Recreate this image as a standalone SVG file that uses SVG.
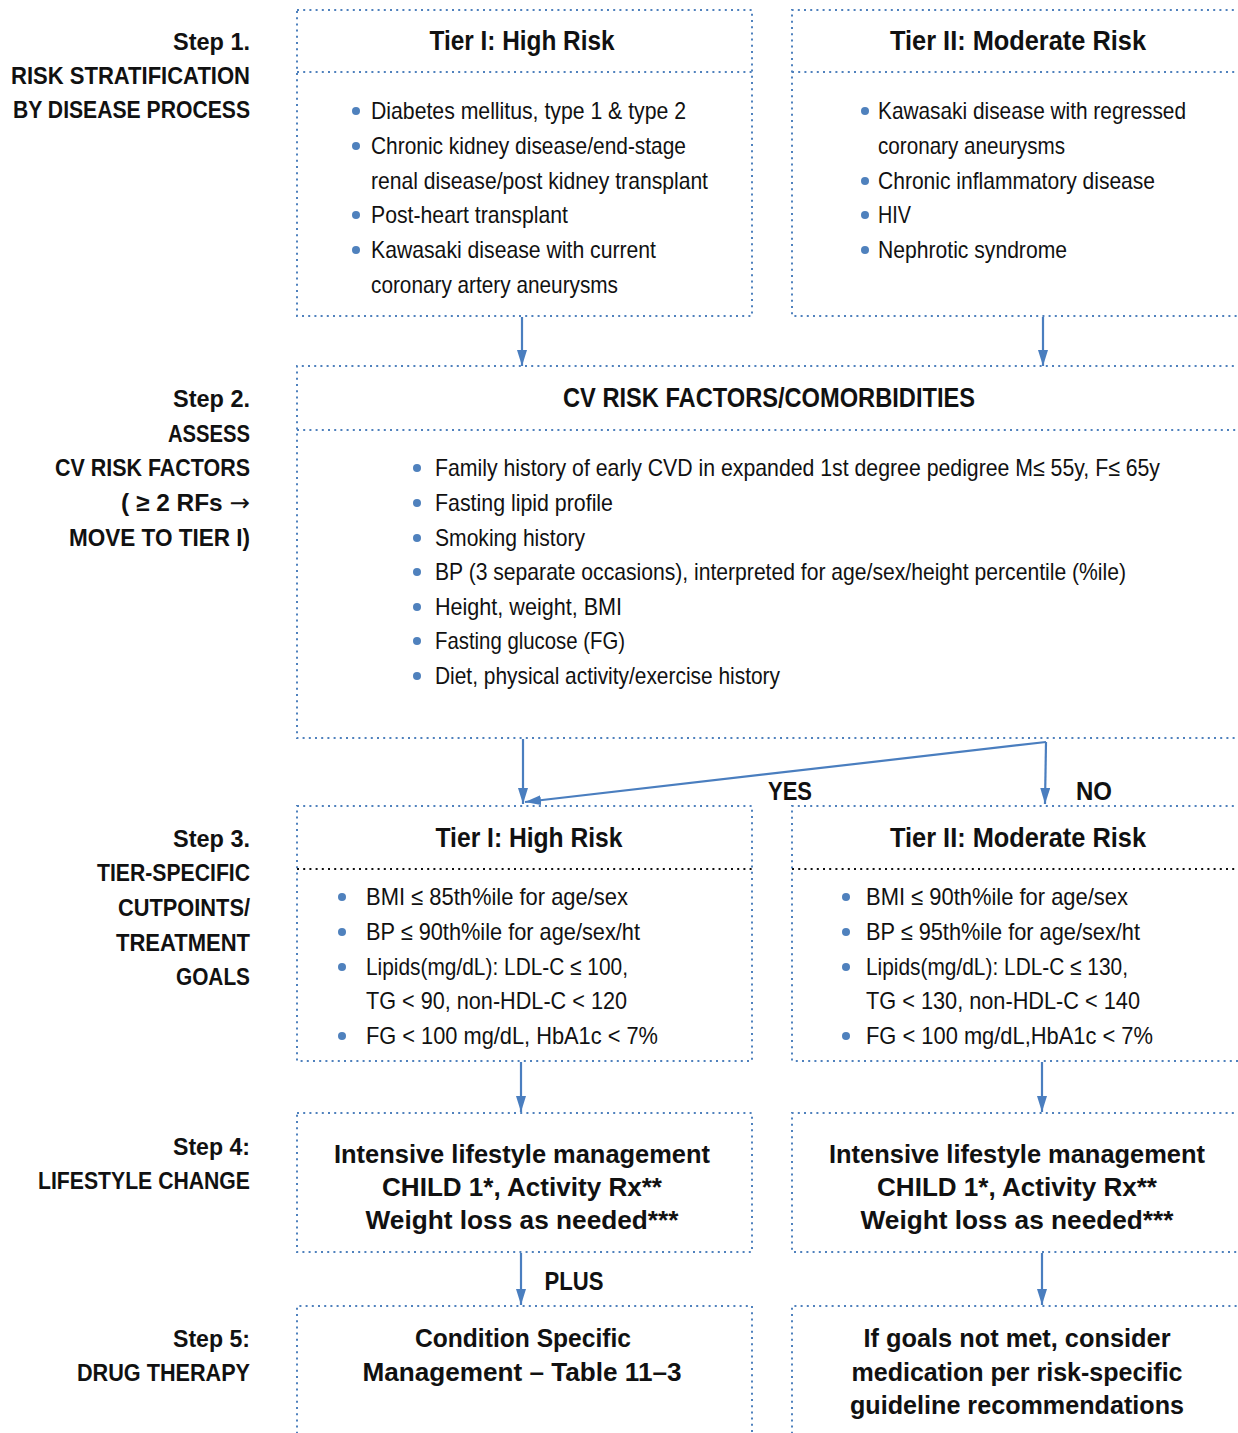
<svg xmlns="http://www.w3.org/2000/svg" width="1238" height="1433" viewBox="0 0 1238 1433">
<style>
.box{fill:none;stroke:#4f81bd;stroke-width:2;stroke-dasharray:2 4.2}
.dl{fill:none;stroke:#4f81bd;stroke-width:2;stroke-dasharray:2 4.2}
.bl{fill:none;stroke:#111;stroke-width:2;stroke-dasharray:2 4.2}
text{font-family:"Liberation Sans",Arial,sans-serif;fill:#111}
.h{font-size:27px;font-weight:bold;text-anchor:middle}
.s{font-size:24px;font-weight:bold;text-anchor:end}
.b{font-size:24px}
.c{font-size:26px;font-weight:bold;text-anchor:middle}
.dot{fill:#4f81bd}
.ar{fill:none;stroke:#4a7ebf;stroke-width:2.2}
.arw{font-family:"DejaVu Sans",sans-serif;font-weight:normal}
</style>
<defs>
<marker id="ah" viewBox="0 0 16 10" refX="16" refY="5" markerWidth="16" markerHeight="10" markerUnits="userSpaceOnUse" orient="auto">
<path d="M0,0 L16,5 L0,10 Z" fill="#4a7ebf"/>
</marker>
</defs>
<rect width="1238" height="1433" fill="#fff"/>

<g id="step-labels">
<text class="s" x="250" y="50" textLength="77" lengthAdjust="spacingAndGlyphs">Step 1.</text>
<text class="s" x="250" y="84" textLength="239" lengthAdjust="spacingAndGlyphs">RISK STRATIFICATION</text>
<text class="s" x="250" y="118" textLength="237" lengthAdjust="spacingAndGlyphs">BY DISEASE PROCESS</text>
<text class="s" x="250" y="407" textLength="77" lengthAdjust="spacingAndGlyphs">Step 2.</text>
<text class="s" x="250" y="442" textLength="82" lengthAdjust="spacingAndGlyphs">ASSESS</text>
<text class="s" x="250" y="476" textLength="195" lengthAdjust="spacingAndGlyphs">CV RISK FACTORS</text>
<text class="s" x="250" y="511" textLength="129" lengthAdjust="spacingAndGlyphs">( ≥ 2 RFs <tspan class="arw">→</tspan></text>
<text class="s" x="250" y="546" textLength="181" lengthAdjust="spacingAndGlyphs">MOVE TO TIER I)</text>
<text class="s" x="250" y="847" textLength="77" lengthAdjust="spacingAndGlyphs">Step 3.</text>
<text class="s" x="250" y="881" textLength="153" lengthAdjust="spacingAndGlyphs">TIER-SPECIFIC</text>
<text class="s" x="250" y="916" textLength="132" lengthAdjust="spacingAndGlyphs">CUTPOINTS/</text>
<text class="s" x="250" y="951" textLength="134" lengthAdjust="spacingAndGlyphs">TREATMENT</text>
<text class="s" x="250" y="985" textLength="74" lengthAdjust="spacingAndGlyphs">GOALS</text>
<text class="s" x="250" y="1155" textLength="77" lengthAdjust="spacingAndGlyphs">Step 4:</text>
<text class="s" x="250" y="1189" textLength="212" lengthAdjust="spacingAndGlyphs">LIFESTYLE CHANGE</text>
<text class="s" x="250" y="1347" textLength="77" lengthAdjust="spacingAndGlyphs">Step 5:</text>
<text class="s" x="250" y="1381" textLength="173" lengthAdjust="spacingAndGlyphs">DRUG THERAPY</text>
</g>

<g id="tier1-step1">
<rect class="box" x="297" y="10" width="455" height="306"/>
<line class="dl" x1="297" y1="72" x2="752" y2="72"/>
<text class="h" x="522" y="50" textLength="185" lengthAdjust="spacingAndGlyphs">Tier I: High Risk</text>
<circle class="dot" cx="356" cy="111" r="4"/>
<circle class="dot" cx="356" cy="146" r="4"/>
<circle class="dot" cx="356" cy="215" r="4"/>
<circle class="dot" cx="356" cy="250" r="4"/>
<text class="b" x="371" y="119" textLength="315" lengthAdjust="spacingAndGlyphs">Diabetes mellitus, type 1 &amp; type 2</text>
<text class="b" x="371" y="154" textLength="315" lengthAdjust="spacingAndGlyphs">Chronic kidney disease/end-stage</text>
<text class="b" x="371" y="189" textLength="337" lengthAdjust="spacingAndGlyphs">renal disease/post kidney transplant</text>
<text class="b" x="371" y="223" textLength="197" lengthAdjust="spacingAndGlyphs">Post-heart transplant</text>
<text class="b" x="371" y="258" textLength="285" lengthAdjust="spacingAndGlyphs">Kawasaki disease with current</text>
<text class="b" x="371" y="293" textLength="247" lengthAdjust="spacingAndGlyphs">coronary artery aneurysms</text>
</g>

<g id="tier2-step1">
<path class="box" d="M1240,10 H792 V316 H1240"/>
<line class="dl" x1="792" y1="72" x2="1240" y2="72"/>
<text class="h" x="1018" y="50" textLength="256" lengthAdjust="spacingAndGlyphs">Tier II: Moderate Risk</text>
<circle class="dot" cx="865" cy="111" r="4"/>
<circle class="dot" cx="865" cy="181" r="4"/>
<circle class="dot" cx="865" cy="215" r="4"/>
<circle class="dot" cx="865" cy="250" r="4"/>
<text class="b" x="878" y="119" textLength="308" lengthAdjust="spacingAndGlyphs">Kawasaki disease with regressed</text>
<text class="b" x="878" y="154" textLength="187" lengthAdjust="spacingAndGlyphs">coronary aneurysms</text>
<text class="b" x="878" y="189" textLength="277" lengthAdjust="spacingAndGlyphs">Chronic inflammatory disease</text>
<text class="b" x="878" y="223" textLength="33" lengthAdjust="spacingAndGlyphs">HIV</text>
<text class="b" x="878" y="258" textLength="189" lengthAdjust="spacingAndGlyphs">Nephrotic syndrome</text>
</g>

<g id="cv-risk-factors">
<path class="box" d="M1240,366 H297 V738 H1240"/>
<line class="dl" x1="297" y1="430" x2="1240" y2="430"/>
<text class="h" x="769" y="407" textLength="412" lengthAdjust="spacingAndGlyphs">CV RISK FACTORS/COMORBIDITIES</text>
<circle class="dot" cx="417" cy="468" r="4"/>
<circle class="dot" cx="417" cy="503" r="4"/>
<circle class="dot" cx="417" cy="538" r="4"/>
<circle class="dot" cx="417" cy="572" r="4"/>
<circle class="dot" cx="417" cy="607" r="4"/>
<circle class="dot" cx="417" cy="641" r="4"/>
<circle class="dot" cx="417" cy="676" r="4"/>
<text class="b" x="435" y="476" textLength="725" lengthAdjust="spacingAndGlyphs">Family history of early CVD in expanded 1st degree pedigree M≤ 55y, F≤ 65y</text>
<text class="b" x="435" y="511" textLength="178" lengthAdjust="spacingAndGlyphs">Fasting lipid profile</text>
<text class="b" x="435" y="546" textLength="150" lengthAdjust="spacingAndGlyphs">Smoking history</text>
<text class="b" x="435" y="580" textLength="691" lengthAdjust="spacingAndGlyphs">BP (3 separate occasions), interpreted for age/sex/height percentile (%ile)</text>
<text class="b" x="435" y="615" textLength="187" lengthAdjust="spacingAndGlyphs">Height, weight, BMI</text>
<text class="b" x="435" y="649" textLength="190" lengthAdjust="spacingAndGlyphs">Fasting glucose (FG)</text>
<text class="b" x="435" y="684" textLength="345" lengthAdjust="spacingAndGlyphs">Diet, physical activity/exercise history</text>
</g>

<g id="tier1-step3">
<rect class="box" x="297" y="806" width="455" height="255"/>
<line class="bl" x1="297" y1="869" x2="752" y2="869"/>
<text class="h" x="529" y="847" textLength="187" lengthAdjust="spacingAndGlyphs">Tier I: High Risk</text>
<circle class="dot" cx="342" cy="897" r="4"/>
<circle class="dot" cx="342" cy="932" r="4"/>
<circle class="dot" cx="342" cy="967" r="4"/>
<circle class="dot" cx="342" cy="1036" r="4"/>
<text class="b" x="366" y="905" textLength="262" lengthAdjust="spacingAndGlyphs">BMI ≤ 85th%ile for age/sex</text>
<text class="b" x="366" y="940" textLength="274" lengthAdjust="spacingAndGlyphs">BP ≤ 90th%ile for age/sex/ht</text>
<text class="b" x="366" y="975" textLength="262" lengthAdjust="spacingAndGlyphs">Lipids(mg/dL): LDL-C ≤ 100,</text>
<text class="b" x="366" y="1009" textLength="261" lengthAdjust="spacingAndGlyphs">TG &lt; 90, non-HDL-C &lt; 120</text>
<text class="b" x="366" y="1044" textLength="292" lengthAdjust="spacingAndGlyphs">FG &lt; 100 mg/dL, HbA1c &lt; 7%</text>
</g>

<g id="tier2-step3">
<path class="box" d="M1240,806 H792 V1061 H1240"/>
<line class="bl" x1="792" y1="869" x2="1240" y2="869"/>
<text class="h" x="1018" y="847" textLength="256" lengthAdjust="spacingAndGlyphs">Tier II: Moderate Risk</text>
<circle class="dot" cx="846" cy="897" r="4"/>
<circle class="dot" cx="846" cy="932" r="4"/>
<circle class="dot" cx="846" cy="967" r="4"/>
<circle class="dot" cx="846" cy="1036" r="4"/>
<text class="b" x="866" y="905" textLength="262" lengthAdjust="spacingAndGlyphs">BMI ≤ 90th%ile for age/sex</text>
<text class="b" x="866" y="940" textLength="274" lengthAdjust="spacingAndGlyphs">BP ≤ 95th%ile for age/sex/ht</text>
<text class="b" x="866" y="975" textLength="262" lengthAdjust="spacingAndGlyphs">Lipids(mg/dL): LDL-C ≤ 130,</text>
<text class="b" x="866" y="1009" textLength="274" lengthAdjust="spacingAndGlyphs">TG &lt; 130, non-HDL-C &lt; 140</text>
<text class="b" x="866" y="1044" textLength="287" lengthAdjust="spacingAndGlyphs">FG &lt; 100 mg/dL,HbA1c &lt; 7%</text>
</g>

<g id="lifestyle-tier1">
<rect class="box" x="297" y="1113" width="455" height="139"/>
<text class="c" x="522" y="1163" textLength="376" lengthAdjust="spacingAndGlyphs">Intensive lifestyle management</text>
<text class="c" x="522" y="1196" textLength="280" lengthAdjust="spacingAndGlyphs">CHILD 1*, Activity Rx**</text>
<text class="c" x="522" y="1229" textLength="313" lengthAdjust="spacingAndGlyphs">Weight loss as needed***</text>
</g>

<g id="lifestyle-tier2">
<path class="box" d="M1240,1113 H792 V1252 H1240"/>
<text class="c" x="1017" y="1163" textLength="376" lengthAdjust="spacingAndGlyphs">Intensive lifestyle management</text>
<text class="c" x="1017" y="1196" textLength="280" lengthAdjust="spacingAndGlyphs">CHILD 1*, Activity Rx**</text>
<text class="c" x="1017" y="1229" textLength="313" lengthAdjust="spacingAndGlyphs">Weight loss as needed***</text>
</g>

<g id="drug-tier1">
<path class="box" d="M297,1440 V1306 H752 V1440"/>
<text class="c" x="523" y="1347" textLength="216" lengthAdjust="spacingAndGlyphs">Condition Specific</text>
<text class="c" x="522" y="1381" textLength="319" lengthAdjust="spacingAndGlyphs">Management – Table 11–3</text>
</g>

<g id="drug-tier2">
<path class="box" d="M792,1440 V1306 H1240"/>
<text class="c" x="1017" y="1347" textLength="307" lengthAdjust="spacingAndGlyphs">If goals not met, consider</text>
<text class="c" x="1017" y="1381" textLength="331" lengthAdjust="spacingAndGlyphs">medication per risk-specific</text>
<text class="c" x="1017" y="1414" textLength="334" lengthAdjust="spacingAndGlyphs">guideline recommendations</text>
</g>

<g id="connectors">
<line class="ar" x1="522" y1="317" x2="522" y2="366" marker-end="url(#ah)"/>
<line class="ar" x1="1043" y1="317" x2="1043" y2="366" marker-end="url(#ah)"/>
<line class="ar" x1="523" y1="739" x2="523" y2="804" marker-end="url(#ah)"/>
<line class="ar" x1="1046" y1="742" x2="525" y2="802" marker-end="url(#ah)"/>
<line class="ar" x1="1046" y1="742" x2="1045" y2="804" marker-end="url(#ah)"/>
<line class="ar" x1="521" y1="1062" x2="521" y2="1112" marker-end="url(#ah)"/>
<line class="ar" x1="1042" y1="1062" x2="1042" y2="1112" marker-end="url(#ah)"/>
<line class="ar" x1="521" y1="1253" x2="521" y2="1305" marker-end="url(#ah)"/>
<line class="ar" x1="1042" y1="1253" x2="1042" y2="1305" marker-end="url(#ah)"/>
<text class="c" x="790" y="800" textLength="44" lengthAdjust="spacingAndGlyphs">YES</text>
<text class="c" x="1094" y="800" textLength="36" lengthAdjust="spacingAndGlyphs">NO</text>
<text class="c" x="574" y="1290" textLength="59" lengthAdjust="spacingAndGlyphs">PLUS</text>
</g>
</svg>
